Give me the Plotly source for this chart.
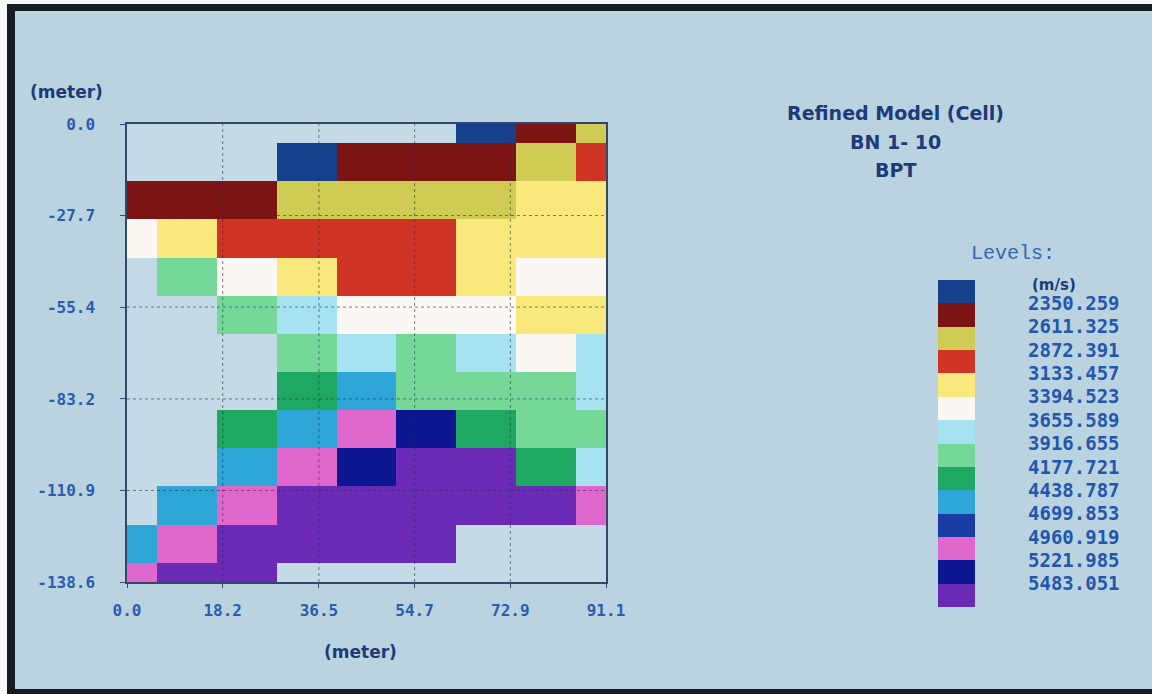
import plotly.graph_objects as go

# Model grid nodes (meters): horizontal offset and depth
x_nodes = [0.0, 11.4, 22.8, 34.2, 45.6, 56.9, 68.3, 79.7, 91.1]
y_nodes = [0.0, -11.55, -23.1, -34.65, -46.2, -57.75, -69.3, -80.85,
           -92.4, -103.95, -115.5, -127.05, -138.6]

# Axis tick labels
x_ticks = [0.0, 18.2, 36.5, 54.7, 72.9, 91.1]
y_ticks = [0.0, -27.7, -55.4, -83.2, -110.9, -138.6]

# Velocity class boundaries (m/s)
level_bounds = [2350.259, 2611.325, 2872.391, 3133.457, 3394.523, 3655.589,
                3916.655, 4177.721, 4438.787, 4699.853, 4960.919, 5221.985,
                5483.051]

# One colour per velocity class (slowest first)
level_colors = ["#17408c", "#7c1414", "#cfcb55", "#cf3424", "#f9e87c",
                "#fbf8f3", "#a6e2f0", "#76d898", "#1fa862", "#2ea6d8",
                "#1a3aa4", "#e068cc", "#0c1690", "#6a2ab6"]

# Velocity class of each model cell (row = depth node, col = x node); None = no ray coverage
N = None
cell_level = [
    [N, N, N, N, N, N, 0, 1, 2],
    [N, N, N, 0, 1, 1, 1, 2, 3],
    [1, 1, 1, 2, 2, 2, 2, 4, 4],
    [5, 4, 3, 3, 3, 3, 4, 4, 4],
    [N, 7, 5, 4, 3, 3, 4, 5, 5],
    [N, N, 7, 6, 5, 5, 5, 4, 4],
    [N, N, N, 7, 6, 7, 6, 5, 6],
    [N, N, N, 8, 9, 7, 7, 7, 6],
    [N, N, 8, 9, 11, 12, 8, 7, 7],
    [N, N, 9, 11, 12, 13, 13, 8, 6],
    [N, 9, 11, 13, 13, 13, 13, 13, 11],
    [9, 11, 13, 13, 13, 13, N, N, N],
    [11, 13, 13, N, N, N, N, N, N],
]

n_levels = len(level_colors)
colorscale = []
for i, c in enumerate(level_colors):
    colorscale.append([i / n_levels, c])
    colorscale.append([(i + 1) / n_levels, c])

W, H = 1152, 694
def px_x(p):
    return p / W
def px_y(p):
    return 1 - p / H

tick_blue = "#2a5cb0"
title_navy = "#1d3a7a"
frame_col = "#34466a"

fig = go.Figure()

# Velocity model cells
fig.add_trace(go.Heatmap(
    x=x_nodes, y=y_nodes, z=cell_level,
    colorscale=colorscale, zmin=-0.5, zmax=n_levels - 0.5,
    showscale=False, hoverinfo="skip", xaxis="x", yaxis="y",
))

# Level key: one swatch per class
fig.add_trace(go.Heatmap(
    x=[0], y=list(range(n_levels)), z=[[i] for i in range(n_levels)],
    colorscale=colorscale, zmin=-0.5, zmax=n_levels - 0.5,
    showscale=False, hoverinfo="skip", xaxis="x2", yaxis="y2",
))

tick_font = dict(family="DejaVu Sans Mono", size=16, color=tick_blue, weight="bold")

fig.update_layout(
    template="none",
    width=W, height=H,
    margin=dict(l=0, r=0, t=0, b=0, pad=0, autoexpand=False),
    paper_bgcolor="#bad3e0",
    plot_bgcolor="#c4dae6",
    showlegend=False,
    xaxis=dict(
        domain=[px_x(127), px_x(606)], anchor="y", automargin=False,
        range=[0, 91.1], tickvals=x_ticks,
        ticktext=[f"{v:.1f}" for v in x_ticks],
        tickfont=tick_font, showgrid=False, zeroline=False,
        showline=True, linecolor=frame_col, linewidth=1.5, mirror=True,
        ticks="outside", ticklen=4, tickcolor=frame_col,
        ticklabelstandoff=9,
    ),
    yaxis=dict(
        domain=[px_y(582), px_y(124)], anchor="x", automargin=False,
        range=[-138.6, 0], tickvals=y_ticks,
        ticktext=[f"{v:.1f}" for v in y_ticks],
        tickfont=tick_font, showgrid=False, zeroline=False,
        showline=True, linecolor=frame_col, linewidth=1.5, mirror=True,
        ticks="outside", ticklen=5, tickcolor=frame_col,
        ticklabelstandoff=22,
    ),
    xaxis2=dict(
        domain=[px_x(938), px_x(975)], anchor="y2", visible=False,
        range=[-0.5, 0.5], automargin=False,
    ),
    yaxis2=dict(
        domain=[px_y(607), px_y(280)], anchor="x2", side="right", automargin=False,
        range=[n_levels - 0.5, -0.5],
        tickvals=[i + 0.5 for i in range(len(level_bounds))],
        ticktext=[f"{v:.3f}" for v in level_bounds],
        tickfont=dict(family="DejaVu Sans Mono", size=19, color="#2456ac", weight="bold"),
        showgrid=False, zeroline=False, showline=False, ticks="",
        ticklabelstandoff=52,
    ),
)

# Dotted grid drawn over the cells at the tick positions
grid_line = dict(color="rgba(40,50,75,0.6)", width=1, dash="dot")
for v in x_ticks[1:-1]:
    fig.add_shape(type="line", xref="x", yref="y domain", x0=v, x1=v, y0=0, y1=1,
                  line=grid_line, layer="above")
for v in y_ticks[1:-1]:
    fig.add_shape(type="line", xref="x domain", yref="y", x0=0, x1=1, y0=v, y1=v,
                  line=grid_line, layer="above")

# Dark bezel around the display
bezel = "#141c22"
fig.add_shape(type="rect", xref="paper", yref="paper", x0=0, x1=px_x(7), y0=0, y1=1,
              fillcolor="#f4f6f8", line_width=0, layer="above")
fig.add_shape(type="rect", xref="paper", yref="paper", x0=px_x(7), x1=px_x(15), y0=0, y1=1,
              fillcolor=bezel, line_width=0, layer="above")
fig.add_shape(type="rect", xref="paper", yref="paper", x0=0, x1=1, y0=px_y(4), y1=1,
              fillcolor="#f4f6f8", line_width=0, layer="above")
fig.add_shape(type="rect", xref="paper", yref="paper", x0=px_x(7), x1=1, y0=px_y(11), y1=px_y(4),
              fillcolor=bezel, line_width=0, layer="above")
fig.add_shape(type="rect", xref="paper", yref="paper", x0=px_x(7), x1=1, y0=0, y1=px_y(689),
              fillcolor=bezel, line_width=0, layer="above")

label_font = dict(family="DejaVu Sans", size=17, color=title_navy, weight="bold")
title_font = dict(family="DejaVu Sans", size=19, color=title_navy, weight="bold")

annotations = [
    dict(text="(meter)", x=px_x(66), y=px_y(92), font=label_font),
    dict(text="(meter)", x=px_x(360), y=px_y(652), font=label_font),
    dict(text="Refined Model (Cell)", x=px_x(895), y=px_y(113), font=title_font),
    dict(text="BN 1- 10", x=px_x(895), y=px_y(142), font=title_font),
    dict(text="BPT", x=px_x(895), y=px_y(170), font=title_font),
    dict(text="Levels:", x=px_x(1013), y=px_y(253),
         font=dict(family="Liberation Mono", size=20, color="#3664b4")),
    dict(text="(m/s)", x=px_x(1054), y=px_y(285),
         font=dict(family="DejaVu Sans", size=15, color=title_navy, weight="bold")),
]
for a in annotations:
    fig.add_annotation(xref="paper", yref="paper", showarrow=False,
                       xanchor="center", yanchor="middle", **a)

fig.write_html("out.html")
